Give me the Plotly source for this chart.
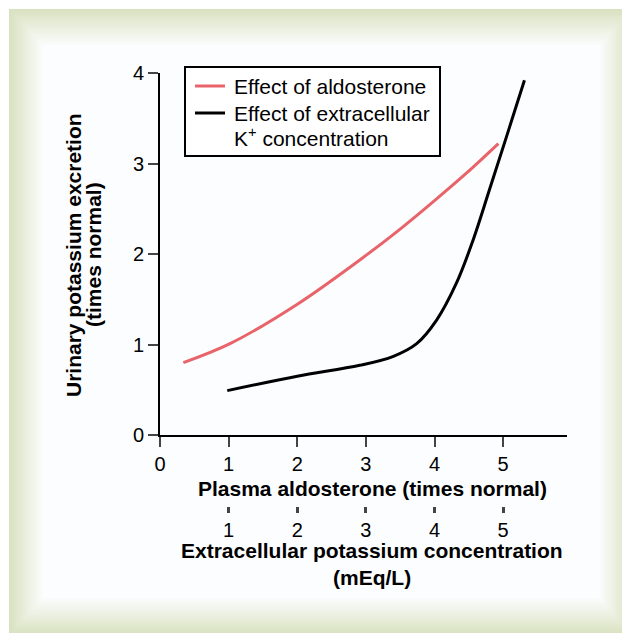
import plotly.graph_objects as go

# ---- data ----
aldo_x = [0.34, 1.02, 1.99, 3.01, 3.49, 4.0, 4.46, 4.93]
aldo_y = [0.80, 1.01, 1.44, 1.99, 2.27, 2.59, 2.89, 3.22]

k_x = [0.98, 2.0, 2.91, 3.40, 3.74, 4.03, 4.32, 4.56, 4.80, 5.05, 5.31]
k_y = [0.49, 0.65, 0.77, 0.87, 1.01, 1.27, 1.68, 2.15, 2.71, 3.30, 3.92]

x1_ticks = [0, 1, 2, 3, 4, 5]
x2_ticks = [1, 2, 3, 4, 5]
y_ticks = [0, 1, 2, 3, 4]

x1_title = "<b>Plasma aldosterone (times normal)</b>"
x2_title_1 = "<b>Extracellular potassium concentration</b>"
x2_title_2 = "<b>(mEq/L)</b>"
y_title_1 = "<b>Urinary potassium excretion</b>"
y_title_2 = "<b>(times normal)</b>"
legend_aldo = "Effect of aldosterone"
legend_k_1 = "Effect of extracellular"
legend_k_2 = "K<sup>+</sup> concentration"

RED = "#e8646a"

# page offset (body margin) and layout in screen pixels
OFF = 8
W, H = 622, 625
L, R, T, B = 152, 63, 65, 33
PW = W - L - R
PH = H - T - B
Y_BOTTOM_PX = 435  # screen px of y=0


def px2x(px):
    return (px - OFF - L) / PW


def px2y(py):
    return (H - B - (py - OFF)) / PH


FONT = "Liberation Sans, Arial, sans-serif"

fig = go.Figure()
fig.add_trace(go.Scatter(x=aldo_x, y=aldo_y, mode="lines", name=legend_aldo,
                         line=dict(color=RED, width=3, shape="spline", smoothing=1.0)))
fig.add_trace(go.Scatter(x=k_x, y=k_y, mode="lines", xaxis="x2",
                         name=legend_k_1 + " " + legend_k_2,
                         line=dict(color="black", width=3, shape="spline", smoothing=1.0)))

# frame gradient shapes
shapes = []
green = (216, 226, 192)
white = (252, 253, 254)
N = 24
for i in range(N + 1):
    t = i / N
    c = tuple(round(green[j] + (white[j] - green[j]) * t) for j in range(3))
    x0 = 9 + 34 * t
    y0 = 9 + 36 * t
    x1 = 632 - 32 * t
    y1 = 635 - 37 * t
    shapes.append(dict(type="rect", xref="paper", yref="paper", layer="below",
                       x0=px2x(x0), x1=px2x(x1), y0=px2y(y1), y1=px2y(y0),
                       line=dict(width=0), fillcolor="rgb(%d,%d,%d)" % c))

# legend box and samples
shapes.append(dict(type="rect", xref="paper", yref="paper", layer="above",
                   x0=px2x(185), x1=px2x(440), y0=px2y(156), y1=px2y(67),
                   line=dict(width=2, color="black"), fillcolor="white"))
shapes.append(dict(type="line", xref="paper", yref="paper", layer="above",
                   x0=px2x(195), x1=px2x(225), y0=px2y(86), y1=px2y(86),
                   line=dict(width=3, color=RED)))
shapes.append(dict(type="line", xref="paper", yref="paper", layer="above",
                   x0=px2x(195), x1=px2x(225), y0=px2y(113), y1=px2y(113),
                   line=dict(width=3, color="black")))

ydom0 = px2y(Y_BOTTOM_PX)

annotations = [
    dict(text=x1_title, x=px2x(372), y=px2y(488)),
    dict(text=x2_title_1, x=px2x(372), y=px2y(550)),
    dict(text=x2_title_2, x=px2x(372), y=px2y(577)),
    dict(text=y_title_1, x=px2x(73), y=px2y(255), textangle=-90),
    dict(text=y_title_2, x=px2x(93), y=px2y(255), textangle=-90),
]
for a in annotations:
    a.update(xanchor="center")
leg_ann = [
    dict(text=legend_aldo, x=px2x(232), y=px2y(86)),
    dict(text=legend_k_1, x=px2x(232), y=px2y(113)),
    dict(text=legend_k_2, x=px2x(232), y=px2y(137)),
]
for a in leg_ann:
    a.update(xanchor="left")
annotations += leg_ann
for a in annotations:
    a.update(xref="paper", yref="paper", yanchor="middle",
             showarrow=False, font=dict(size=21, family=FONT, color="black"))

fig.update_layout(
    width=W, height=H,
    margin=dict(l=L, r=R, t=T, b=B),
    paper_bgcolor="white",
    plot_bgcolor="rgba(0,0,0,0)",
    font=dict(family=FONT, size=20, color="black"),
    shapes=shapes,
    annotations=annotations,
    showlegend=False,
    xaxis=dict(range=[0, 5.93], tickvals=x1_ticks, ticks="outside", ticklen=10, tickwidth=2,
               showline=True, linewidth=2, linecolor="black", showgrid=False, zeroline=False,
               anchor="y", tickfont=dict(size=20)),
    xaxis2=dict(range=[0, 5.93], tickvals=x2_ticks, ticks="outside", ticklen=6, tickwidth=3,
                showline=False, showgrid=False, zeroline=False, overlaying="x",
                anchor="free", position=px2y(506), side="bottom", tickfont=dict(size=20)),
    yaxis=dict(range=[0, 4], tickvals=y_ticks, ticks="outside", ticklen=10, tickwidth=2,
               showline=True, linewidth=2, linecolor="black", showgrid=False, zeroline=False,
               domain=[ydom0, 1], tickfont=dict(size=20)),
)

fig.write_html("out.html")
